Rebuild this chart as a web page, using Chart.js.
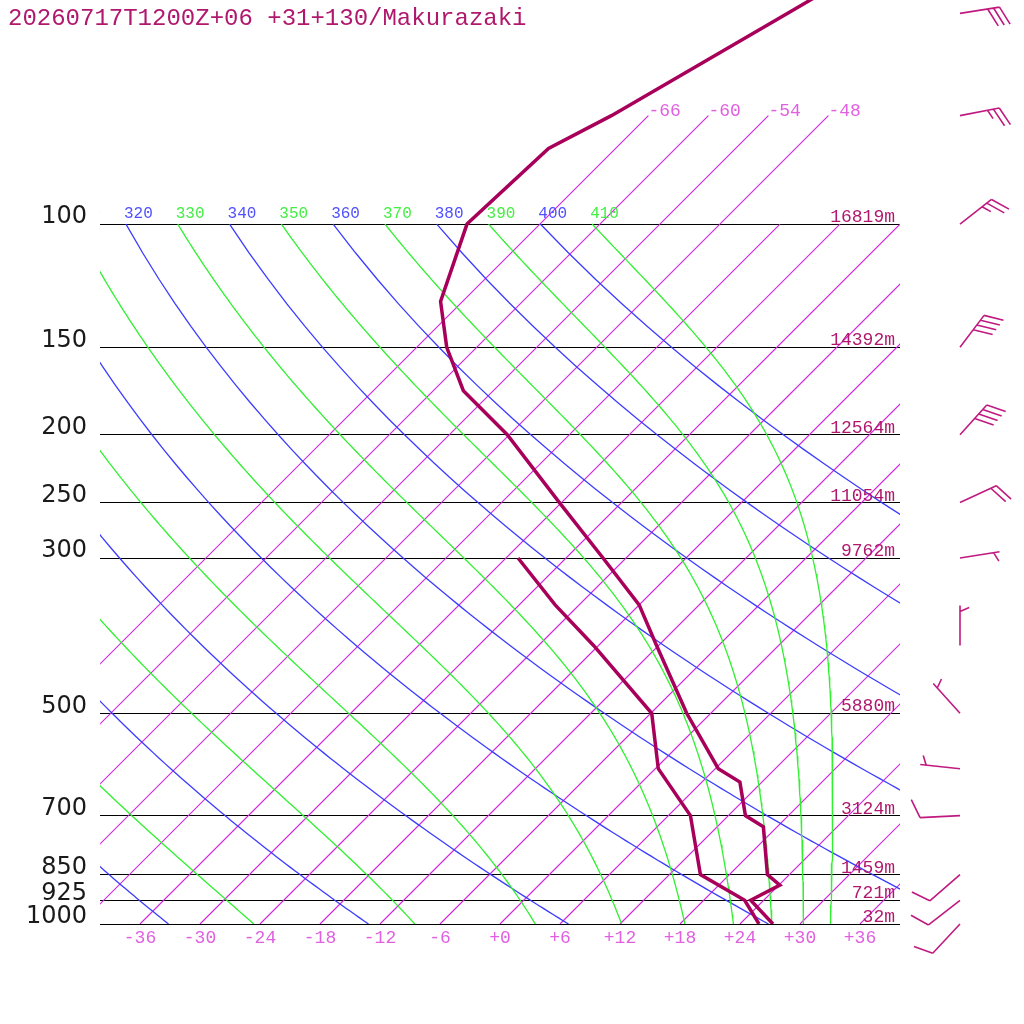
<!DOCTYPE html>
<html>
<head>
<meta charset="utf-8">
<script src="https://cdn.jsdelivr.net/npm/chart.js@4/dist/chart.umd.min.js"></script>
<style>
  html, body { margin: 0; padding: 0; background: #fff; }
  #wrap { width: 1024px; height: 1024px; }
</style>
</head>
<body>
<div id="wrap"><canvas id="skewt"></canvas></div>
<script>
const title = '20260717T1200Z+06 +31+130/Makurazaki';

// temperature profile (hPa, degC)
const tempP = [1000, 925, 880, 850, 726, 700, 627, 600, 500, 400, 350, 300, 250, 200, 173, 150, 129, 100, 78, 70, 50, 30];
const tempT = [27.3, 22.7, 24.1, 21.8, 16.6, 13.7, 9.8, 6.3, -2.4, -12.2, -18.0, -26.3, -36.2, -48.2, -57.0, -63.0, -68.2, -73.3, -72.7, -69.7, -62.3, -51.5];

// dew point profile
const dewP = [1000, 925, 850, 700, 600, 500, 400, 350, 300];
const dewT = [25.9, 22.1, 15.1, 8.2, 0.3, -5.9, -18.5, -26.4, -34.8];

// winds: direction (deg), speed (kt)
const windP = [1000, 925, 850, 700, 600, 500, 400, 300, 250, 200, 150, 100, 70, 50];
const windDir = [223, 232, 229, 267, 276, 318, 0, 81, 65, 42, 37, 52, 79, 81];
const windSpd = [10, 10, 10, 10, 5, 5, 5, 5, 20, 40, 40, 25, 25, 30];

// standard level heights
const heightP = [100, 150, 200, 250, 300, 500, 700, 850, 925, 1000];
const heights = [16819, 14392, 12564, 11054, 9762, 5880, 3124, 1459, 721, 32];

// axes / background lines
const pressureTicks = [100, 150, 200, 250, 300, 500, 700, 850, 925, 1000];
const tempTicks = [-36, -30, -24, -18, -12, -6, 0, 6, 12, 18, 24, 30, 36];
const isotherms = [-66, -60, -54, -48, -42, -36, -30, -24, -18, -12, -6, 0, 6, 12, 18, 24, 30, 36];
const dryThetas = [240, 260, 280, 300, 320, 340, 360, 380, 400];
const moistThetas = [250, 270, 290, 310, 330, 350, 370, 390, 410];

const SKEW = 30.4;      // degC per e-fold of pressure -> 45 degree isotherms
const P_TOP = 47.85;    // top of the diagram (hPa)
const KAPPA = 0.2857;

const skewX = (t, p) => t + SKEW * Math.log(1000 / p);
const pts = (ps, ts) => ps.map((p, i) => ({x: skewX(ts[i], p), y: p}));

function isothermLine(t) {
  const top = t <= -48 ? 70 : 100;
  return [{x: skewX(t, 1000), y: 1000}, {x: skewX(t, top), y: top}];
}

function dryAdiabat(theta) {
  const out = [];
  for (let p = 1000; p >= 100; p -= 10) {
    out.push({x: skewX(theta * Math.pow(p / 1000, KAPPA) - 273.15, p), y: p});
  }
  return out;
}

function moistLapse(T, p) {
  const tc = T - 273.15;
  const es = 6.112 * Math.exp(17.67 * tc / (tc + 243.5));
  const rs = 0.622 * es / (p - es);
  const Rd = 287.04, cp = 1005.7, Lv = 2.501e6;
  return (Rd * T + Lv * rs) / (cp + Lv * Lv * rs * 0.622 / (Rd * T * T));
}

// pseudo-adiabat followed down from 100 hPa
function moistAdiabat(theta) {
  let p = 100, T = theta * Math.pow(0.1, KAPPA);
  const out = [{x: skewX(T - 273.15, p), y: p}];
  const n = 150, h = Math.log(10) / n;
  for (let i = 0; i < n; i++) {
    const k1 = moistLapse(T, p);
    const k2 = moistLapse(T + k1 * h / 2, p * Math.exp(h / 2));
    T += k2 * h;
    p *= Math.exp(h);
    out.push({x: skewX(T - 273.15, p), y: p});
  }
  return out;
}

const line = (data, color, width, order) => ({
  data, borderColor: color, borderWidth: width, showLine: true,
  pointRadius: 0, fill: false, order
});

const datasets = [
  line(pts(tempP, tempT), '#a8005a', 3.5, 0),
  line(pts(dewP, dewT), '#a8005a', 3.5, 0),
  ...moistThetas.map(th => line(moistAdiabat(th), 'rgb(48,240,48)', 1.3, 2)),
  ...dryThetas.map(th => line(dryAdiabat(th), 'rgb(60,60,255)', 1.3, 3)),
  ...isotherms.map(t => line(isothermLine(t), 'rgb(210,40,222)', 1.2, 4)),
];

const MONO = '"Liberation Mono", monospace';

const overlay = {
  id: 'overlay',
  afterDatasetsDraw(chart) {
    const ctx = chart.ctx, a = chart.chartArea;
    const xs = chart.scales.x, ys = chart.scales.y;
    ctx.save();
    ctx.beginPath();
    ctx.rect(a.left, 0, a.right - a.left, a.bottom);
    ctx.clip();
    ctx.textAlign = 'left';
    ctx.textBaseline = 'alphabetic';

    // adiabat labels along 100 hPa
    ctx.font = '16px ' + MONO;
    const y100 = ys.getPixelForValue(100);
    const lab = [];
    dryThetas.forEach(th => lab.push([th, '#5050ff']));
    moistThetas.forEach(th => lab.push([th, '#44ee44']));
    lab.forEach(([th, c]) => {
      const t = th * Math.pow(0.1, KAPPA) - 273.15;
      ctx.fillStyle = c;
      ctx.fillText(String(th), xs.getPixelForValue(skewX(t, 100)) - 2, y100 - 6);
    });

    // isotherm labels at the top
    ctx.font = '18px ' + MONO;
    ctx.fillStyle = '#e060e0';
    const y70 = ys.getPixelForValue(70);
    isotherms.filter(t => t <= -48).forEach(t => {
      ctx.fillText(String(t), xs.getPixelForValue(skewX(t, 70)), y70);
    });
    ctx.restore();

    // heights of standard levels
    ctx.save();
    ctx.font = '18px ' + MONO;
    ctx.fillStyle = '#b0186e';
    ctx.textAlign = 'right';
    ctx.textBaseline = 'alphabetic';
    heightP.forEach((p, i) => {
      ctx.fillText(heights[i] + 'm', a.right - 5, ys.getPixelForValue(p) - 2);
    });
    ctx.restore();
  },
  afterDraw(chart) {
    const ctx = chart.ctx, a = chart.chartArea, ys = chart.scales.y;
    ctx.save();
    ctx.font = '24px ' + MONO;
    ctx.fillStyle = '#b0186e';
    ctx.textBaseline = 'alphabetic';
    ctx.fillText(title, 8, 25);

    // wind barbs
    ctx.strokeStyle = '#c01a80';
    ctx.lineWidth = 1.6;
    const sx = a.right + 60, staff = 40, rot = 67 * Math.PI / 180;
    windP.forEach((p, i) => {
      const sy = ys.getPixelForValue(p);
      const d = windDir[i] * Math.PI / 180;
      const dx = Math.sin(d), dy = -Math.cos(d);
      const bx = dx * Math.cos(rot) - dy * Math.sin(rot);
      const by = dx * Math.sin(rot) + dy * Math.cos(rot);
      const tx = sx + dx * staff, ty = sy + dy * staff;
      ctx.beginPath();
      ctx.moveTo(sx, sy);
      ctx.lineTo(tx, ty);
      const full = Math.floor(windSpd[i] / 10);
      const half = windSpd[i] % 10 >= 5;
      let k = 0;
      for (; k < full; k++) {
        const px = tx - dx * 6 * k, py = ty - dy * 6 * k;
        ctx.moveTo(px, py);
        ctx.lineTo(px + bx * 20, py + by * 20);
      }
      if (half) {
        if (k === 0) k = 1;
        const px = tx - dx * 6 * k, py = ty - dy * 6 * k;
        ctx.moveTo(px, py);
        ctx.lineTo(px + bx * 10, py + by * 10);
      }
      ctx.stroke();
    });
    ctx.restore();
  }
};

new Chart(document.getElementById('skewt'), {
  type: 'scatter',
  data: {datasets},
  options: {
    responsive: true,
    maintainAspectRatio: false,
    devicePixelRatio: 1,
    animation: false,
    layout: {padding: {left: 0, right: 124, top: 0, bottom: 0}},
    plugins: {legend: {display: false}, tooltip: {enabled: false}},
    elements: {line: {tension: 0}},
    scales: {
      x: {
        type: 'linear', min: -40, max: 40,
        grid: {display: false}, border: {display: false},
        afterBuildTicks: s => { s.ticks = tempTicks.map(v => ({value: v})); },
        afterFit: s => { s.height = 100; s.paddingLeft = 0; s.paddingRight = 0; },
        ticks: {
          autoSkip: false, maxRotation: 0, padding: -5,
          color: '#e060e0', font: {family: 'Liberation Mono', size: 18},
          callback: v => (v >= 0 ? '+' : '') + v
        }
      },
      y: {
        type: 'logarithmic', reverse: true, min: P_TOP, max: 1000,
        grid: {color: '#000', lineWidth: 1, drawTicks: false},
        border: {display: false},
        afterBuildTicks: s => { s.ticks = pressureTicks.map(v => ({value: v})); },
        afterFit: s => { s.width = 100; s.paddingTop = 0; s.paddingBottom = 0; },
        ticks: {
          autoSkip: false, padding: 13, labelOffset: -7,
          color: '#1a1a1a', font: {family: 'DejaVu Sans', size: 24},
          callback: v => String(v)
        }
      }
    }
  },
  plugins: [overlay]
});
</script>
</body>
</html>
